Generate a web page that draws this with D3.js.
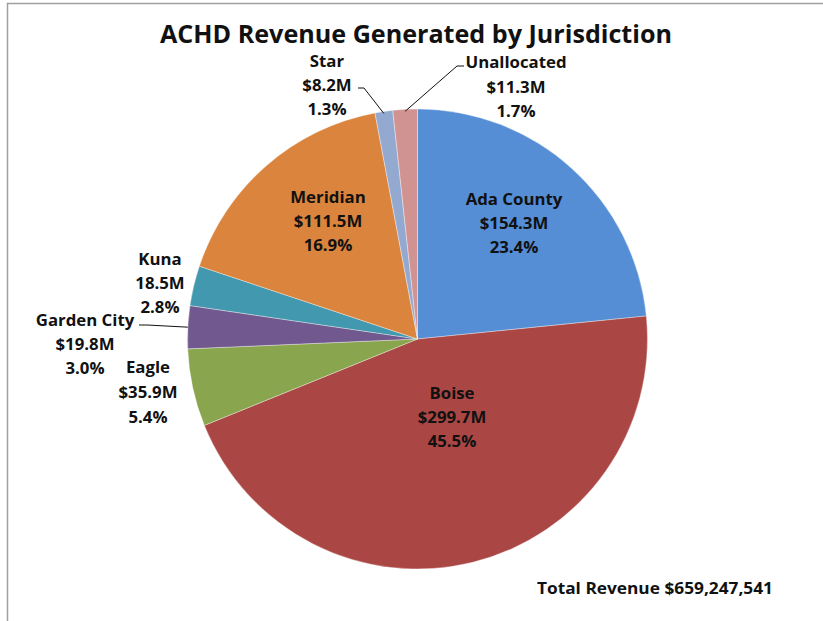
<!DOCTYPE html>
<html><head><meta charset="utf-8">
<script src="https://cdn.jsdelivr.net/npm/d3@7"></script>
<style>body{margin:0;background:#fff}svg{display:block}text{font-family:"Open Sans",Lato,sans-serif;font-weight:bold;fill:#111}</style>
</head><body>
<script>
const categories = ["Ada County","Boise","Eagle","Garden City","Kuna","Meridian","Star","Unallocated"];
const values = [154.3, 299.7, 35.9, 19.8, 18.5, 111.5, 8.2, 11.3];
const valueLabels = ["$154.3M","$299.7M","$35.9M","$19.8M","18.5M","$111.5M","$8.2M","$11.3M"];
const percentLabels = ["23.4%","45.5%","5.4%","3.0%","2.8%","16.9%","1.3%","1.7%"];
const colors = ["#558ED5","#AA4643","#89A54E","#71588F","#4198AF","#DB843D","#93A9CF","#D19392"];
const title = "ACHD Revenue Generated by Jurisdiction";
const totalText = "Total Revenue $659,247,541";

const W = 823, H = 621;
const svg = d3.select("body").append("svg").attr("width", W).attr("height", H);
svg.append("path").attr("d", `M7.5,${H}V3.5H${W}`).attr("fill","none").attr("stroke","#a0a0a0").attr("stroke-width",1.5);

svg.append("text").attr("x", 416).attr("y", 43).attr("text-anchor","middle").attr("font-size", 25)
  .attr("textLength", 512).attr("lengthAdjust","spacingAndGlyphs").text(title);

const cx = 417.5, cy = 339, R = 230;
const pie = d3.pie().sort(null).value(d => d)(values);
const arc = d3.arc().innerRadius(0).outerRadius(R);
const g = svg.append("g").attr("transform", `translate(${cx},${cy})`);
g.selectAll("path").data(pie).join("path")
  .attr("d", arc).attr("fill", (d,i) => colors[i])
  .attr("stroke", "rgba(255,255,255,0.6)").attr("stroke-width", 0.6);

// label centres (absolute) for each slice
const labelPos = [[514,199],[452,393],[148,367],[85,320],[160,259],[328,197],[327,60.5],[516,62]];
const lineGaps = [24,24,25,24,24,24,24,24.5];
categories.forEach((c,i) => {
  const [x,y] = labelPos[i];
  const t = svg.append("text").attr("x", x).attr("text-anchor","middle").attr("font-size", 16.8);
  [c, valueLabels[i], percentLabels[i]].forEach((s,k) => {
    t.append("tspan").attr("x", x).attr("y", y + 6 + k*lineGaps[i]).text(s);
  });
});

// leader lines computed from slice angles
function edgePoint(i, frac) {
  const d = pie[i];
  const a = d.startAngle + (d.endAngle - d.startAngle) * frac;
  return [cx + R*Math.sin(a), cy - R*Math.cos(a)];
}
const leaders = [
  {i:3, pts:[[139,325],[147,325]]},
  {i:6, pts:[[358,88],[364,88]]},
  {i:7, pts:[[464,66],[457,66]]}
];
leaders.forEach(l => {
  const p = edgePoint(l.i, 0.5);
  svg.append("polyline").attr("points", [...l.pts, [p[0], p[1]+ (l.i===3?0:2)]].map(q=>q.join(",")).join(" "))
    .attr("fill","none").attr("stroke","#111").attr("stroke-width",1);
});

svg.append("text").attr("x", 537).attr("y", 594).attr("font-size", 16.5)
  .attr("textLength", 236).attr("lengthAdjust","spacingAndGlyphs").text(totalText);
</script>
</body></html>
